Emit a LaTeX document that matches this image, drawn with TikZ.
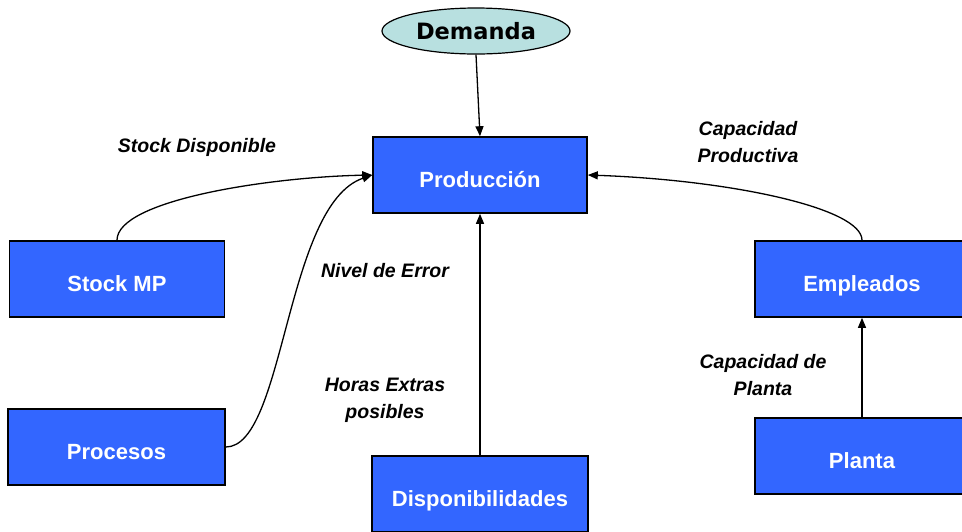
\documentclass[tikz,border=0pt]{standalone}
\usepackage{fontspec}
\setmainfont{Liberation Sans}
\newfontfamily\demfont{DejaVu Sans}
\usetikzlibrary{shapes.geometric,arrows.meta}
\definecolor{boxblue}{HTML}{3366FF}
\definecolor{demfill}{HTML}{B8E0E0}
\begin{document}
\begin{tikzpicture}[x=1pt,y=-1pt,
  blockbox/.style={draw=black,line width=1.6pt,fill=boxblue,text=white,
    font=\fontsize{22}{26}\selectfont\bfseries,minimum width=214pt,minimum height=76pt,inner sep=0pt,
    text height=24pt,text depth=0pt},
  conn/.style={draw=black,line width=1.3pt,-{Triangle[length=10pt,width=8pt]}},
  lbl/.style={font=\fontsize{19.5}{27}\selectfont\bfseries\itshape,align=center}]
\useasboundingbox (0,0) rectangle (962,531);
\clip (0,0) rectangle (962,531);
\fill[white] (0,0) rectangle (962,531);

% nodes
\node[ellipse,draw=black,line width=1.2pt,fill=demfill,minimum width=188pt,minimum height=46pt,
  font=\demfont\fontsize{22.5}{26}\selectfont\bfseries] (dem) at (476,31) {Demanda};
\node[blockbox] (prod) at (480,175) {Producción};
\node[blockbox,minimum width=215pt] (stock) at (117,279) {Stock MP};
\node[blockbox,minimum width=217pt] (proc) at (116.5,447) {Procesos};
\node[blockbox,minimum width=216pt] (disp) at (480,494) {Disponibilidades};
\node[blockbox] (emp) at (862,279) {Empleados};
\node[blockbox] (planta) at (862,456) {Planta};

% connectors
\draw[conn] (dem.south) -- (prod.north);
\draw[conn] (disp.north) -- (prod.south);
\draw[conn] (planta.north) -- (emp.south);
\draw[conn] (stock.north) .. controls (117,200) and (270,177) .. (prod.west);
\draw[conn] (proc.east) .. controls (285,447) and (285,205) .. (prod.west);
\draw[conn] (emp.north) .. controls (862,208) and (730,180) .. (prod.east);

% labels
\node[lbl] (lstock) at (197,147) {Stock Disponible};
\node[lbl] (lerr) at (385,271) {Nivel de Error};
\node[lbl] (lhoras) at (385,400) {Horas Extras\\posibles};
\node[lbl] (lcapp) at (748,142) {Capacidad\\Productiva};
\node[lbl] (lcappl) at (763,375) {Capacidad de\\Planta};
\end{tikzpicture}
\end{document}
